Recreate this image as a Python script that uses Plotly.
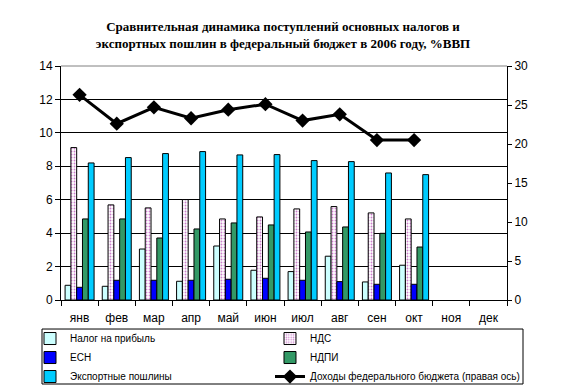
import plotly.graph_objects as go

months = ["янв", "фев", "мар", "апр", "май", "июн", "июл", "авг", "сен", "окт", "ноя", "дек"]
data_months = months[:10]

profit_tax = [0.88, 0.82, 3.05, 1.12, 3.23, 1.78, 1.70, 2.62, 1.08, 2.08]
vat = [9.12, 5.69, 5.51, 6.01, 4.85, 4.97, 5.45, 5.59, 5.21, 4.85]
esn = [0.76, 1.18, 1.18, 1.18, 1.24, 1.30, 1.18, 1.10, 0.94, 0.94]
ndpi = [4.85, 4.85, 3.71, 4.25, 4.61, 4.49, 4.07, 4.37, 3.99, 3.17]
export_duties = [8.20, 8.52, 8.76, 8.88, 8.68, 8.70, 8.34, 8.28, 7.60, 7.50]
budget_revenue = [26.3, 22.6, 24.7, 23.3, 24.4, 25.1, 23.0, 23.8, 20.5, 20.5]

outline = dict(color="black", width=1)

fig = go.Figure()
fig.add_trace(go.Bar(x=data_months, y=profit_tax, name="Налог на прибыль", legend="legend",
                     marker=dict(color="#CCFFFF", line=outline)))
fig.add_trace(go.Bar(x=data_months, y=vat, name="НДС", legend="legend2",
                     marker=dict(color="white", line=outline,
                                 pattern=dict(shape=".", fgcolor="#990099", bgcolor="white",
                                              size=3, solidity=0.3))))
fig.add_trace(go.Bar(x=data_months, y=esn, name="ЕСН", legend="legend",
                     marker=dict(color="#0000FF", line=outline)))
fig.add_trace(go.Bar(x=data_months, y=ndpi, name="НДПИ", legend="legend2",
                     marker=dict(color="#339966", line=outline)))
fig.add_trace(go.Bar(x=data_months, y=export_duties, name="Экспортные пошлины", legend="legend",
                     marker=dict(color="#00CCFF", line=outline)))
fig.add_trace(go.Scatter(x=data_months, y=budget_revenue, name="Доходы федерального бюджета (правая ось)",
                         legend="legend2", yaxis="y2", mode="lines+markers",
                         line=dict(color="black", width=3),
                         marker=dict(symbol="diamond", size=11, color="black")))

tickfont = dict(family="Liberation Sans, Arial", size=12, color="black")
legfont = dict(family="Liberation Sans, Arial", size=10, color="black")

# the page body has an 8px margin, so the figure is offset by 8px inside the window
fig.update_layout(
    width=559, height=400,
    margin=dict(l=53, r=60, t=58, b=108),
    paper_bgcolor="white", plot_bgcolor="white",
    barmode="group", bargap=0.22, bargroupgap=0,
    showlegend=True,
    title=dict(text="<b>Сравнительная динамика поступлений основных налогов и<br>экспортных пошлин в федеральный бюджет в 2006 году, %ВВП</b>",
               x=0.492, xanchor="center", yref="container", y=0.9425, yanchor="top",
               font=dict(family="Liberation Serif, Times New Roman", size=13, color="black")),
    xaxis=dict(type="category", categoryorder="array", categoryarray=months,
               range=[-0.5, 11.5], showline=True, linecolor="black", linewidth=1,
               ticks="outside", ticklen=5, tickcolor="black", tickson="boundaries",
               ticklabelstandoff=7, tickfont=tickfont, showgrid=False, zeroline=False),
    yaxis=dict(range=[0, 14], dtick=2, showline=True, linecolor="black", linewidth=1,
               ticks="outside", ticklen=5, tickcolor="black", tickfont=tickfont,
               showgrid=True, gridcolor="black", gridwidth=1, zeroline=False),
    yaxis2=dict(range=[0, 30], dtick=5, overlaying="y", side="right",
                showline=True, linecolor="black", linewidth=1,
                ticks="outside", ticklen=4, tickcolor="black", tickfont=tickfont,
                showgrid=False, zeroline=False),
    legend=dict(orientation="v", x=-0.0695, xanchor="left", y=-0.389, yanchor="bottom",
                itemwidth=30, borderwidth=0, bgcolor="rgba(0,0,0,0)",
                font=legfont, traceorder="normal", tracegroupgap=0),
    legend2=dict(orientation="v", x=0.4686, xanchor="left", y=-0.389, yanchor="bottom",
                 itemwidth=30, borderwidth=0, bgcolor="rgba(0,0,0,0)",
                 font=legfont, traceorder="normal", tracegroupgap=0),
    shapes=[
        dict(type="line", xref="paper", yref="paper", x0=0, x1=1, y0=1, y1=1,
             line=dict(color="#808080", width=1)),
        dict(type="rect", xref="paper", yref="paper", x0=-0.0426, x1=1.0359, y0=-0.359, y1=-0.124,
             line=dict(color="black", width=1), fillcolor="rgba(0,0,0,0)", layer="below"),
    ],
)

fig.write_html("out.html")
